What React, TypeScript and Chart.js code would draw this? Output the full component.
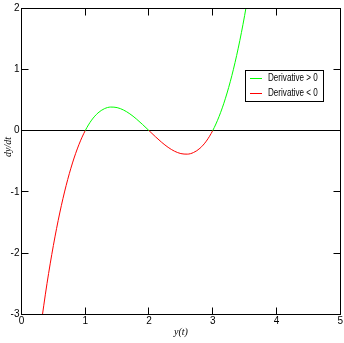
import React, { useEffect, useRef } from "react";
import { Chart, registerables } from "chart.js";

Chart.register(...registerables);

// Values
const yValues = [0.3, 0.4, 0.5, 0.6, 0.7, 0.8, 0.9, 1.0, 1.1, 1.2, 1.3, 1.4, 1.5, 1.6, 1.7, 1.8, 1.9, 2.0, 2.1, 2.2, 2.3, 2.4, 2.5, 2.6, 2.7, 2.8, 2.9, 3.0, 3.1, 3.2, 3.3, 3.4, 3.5, 3.6];
const dydtValues = [-3.213, -2.496, -1.875, -1.344, -0.897, -0.528, -0.231, 0, 0.171, 0.288, 0.357, 0.384, 0.375, 0.336, 0.273, 0.192, 0.099, 0, -0.099, -0.192, -0.273, -0.336, -0.375, -0.384, -0.357, -0.288, -0.171, 0, 0.231, 0.528, 0.897, 1.344, 1.875, 2.496];
const xTicks = [0, 1, 2, 3, 4, 5];
const yTicks = [-3, -2, -1, 0, 1, 2];
const legendLabels = ["Derivative > 0", "Derivative < 0"];
const legendColors = ["#00ff00", "#ff0000"];
const xTitle = "y(t)";
const yTitle = "dy/dt";

const TICK_FONT = "10px 'Liberation Sans', Arial, sans-serif";

const framePlugin = {
  id: "framePlugin",
  afterDraw(chart: any) {
    const ctx = chart.ctx;
    const a = chart.chartArea;
    const xs = chart.scales.x;
    const ys = chart.scales.y;
    const al = (v: number) => Math.round(v - 0.5) + 0.5;
    ctx.save();
    ctx.strokeStyle = "#000";
    ctx.lineWidth = 1;
    const L = al(a.left), R = al(a.right), T = al(a.top), B = al(a.bottom);
    ctx.strokeRect(L, T, R - L, B - T);
    const tl = 7;
    ctx.beginPath();
    xTicks.forEach((v) => {
      const px = al(xs.getPixelForValue(v));
      ctx.moveTo(px, B);
      ctx.lineTo(px, B - tl);
      ctx.moveTo(px, T);
      ctx.lineTo(px, T + tl);
    });
    yTicks.forEach((v) => {
      const py = al(ys.getPixelForValue(v));
      ctx.moveTo(L, py);
      ctx.lineTo(L + tl, py);
      ctx.moveTo(R, py);
      ctx.lineTo(R - tl, py);
    });
    ctx.stroke();

    // legend
    ctx.strokeStyle = "#000";
    ctx.strokeRect(245.5, 70.5, 78, 31);
    ctx.font = TICK_FONT;
    ctx.textBaseline = "middle";
    ctx.textAlign = "left";
    legendLabels.forEach((lab, i) => {
      const y = 78 + i * 15;
      ctx.fillStyle = legendColors[i];
      ctx.fillRect(250, y, 12, 1);
      ctx.fillStyle = "#000";
      ctx.save();
      ctx.translate(268, y + 0.5);
      ctx.scale(0.81, 1);
      ctx.fillText(lab, 0, 0);
      ctx.restore();
    });

    // axis titles
    ctx.fillStyle = "#000";
    ctx.font = "italic 10px 'Liberation Serif', 'Times New Roman', serif";
    ctx.textAlign = "center";
    ctx.textBaseline = "middle";
    ctx.fillText(xTitle, 181, 332);
    ctx.save();
    ctx.translate(8, 147);
    ctx.rotate(-Math.PI / 2);
    ctx.fillText(yTitle, 0, 0);
    ctx.restore();
    ctx.restore();
  },
};

export default function App() {
  const ref = useRef<HTMLCanvasElement | null>(null);
  useEffect(() => {
    if (!ref.current) return;
    const points = yValues.map((x, i) => ({ x, y: dydtValues[i] }));
    const chart = new Chart(ref.current, {
      type: "line",
      data: {
        datasets: [
          {
            data: points,
            borderWidth: 1,
            pointRadius: 0,
            cubicInterpolationMode: "monotone",
            borderColor: legendColors[0],
            segment: {
              borderColor: (c: any) =>
                (c.p0.parsed.y + c.p1.parsed.y) / 2 >= 0 ? legendColors[0] : legendColors[1],
            },
          },
        ],
      },
      options: {
        animation: false,
        responsive: false,
        devicePixelRatio: 1,
        layout: { padding: { top: 3.5, right: 3.5, left: 0, bottom: 0 } },
        plugins: { legend: { display: false }, tooltip: { enabled: false } },
        scales: {
          x: {
            type: "linear",
            min: 0,
            max: 5,
            afterBuildTicks: (s: any) => {
              s.ticks = xTicks.map((v) => ({ value: v }));
            },
            ticks: { font: { family: "'Liberation Sans', Arial", size: 10 }, color: "#000", padding: 1, maxRotation: 0, autoSkip: false },
            grid: { display: false, drawTicks: false },
            border: { display: false },
            afterFit: (s: any) => {
              s.height = 28.5;
            },
          },
          y: {
            type: "linear",
            min: -3,
            max: 2,
            afterBuildTicks: (s: any) => {
              s.ticks = yTicks.map((v) => ({ value: v }));
            },
            ticks: { font: { family: "'Liberation Sans', Arial", size: 10 }, color: "#000", padding: 2, autoSkip: false },
            grid: {
              drawTicks: false,
              lineWidth: 1,
              color: (c: any) => (c.tick && c.tick.value === 0 ? "#000" : "rgba(0,0,0,0)"),
            },
            border: { display: false },
            afterFit: (s: any) => {
              s.width = 21.5;
            },
          },
        },
      } as any,
      plugins: [framePlugin],
    });
    return () => chart.destroy();
  }, []);
  return (
    <div style={{ position: "fixed", left: 0, top: 0, width: 344, height: 343, background: "#fff" }}>
      <canvas ref={ref} width={344} height={343} style={{ display: "block" }} />
    </div>
  );
}
